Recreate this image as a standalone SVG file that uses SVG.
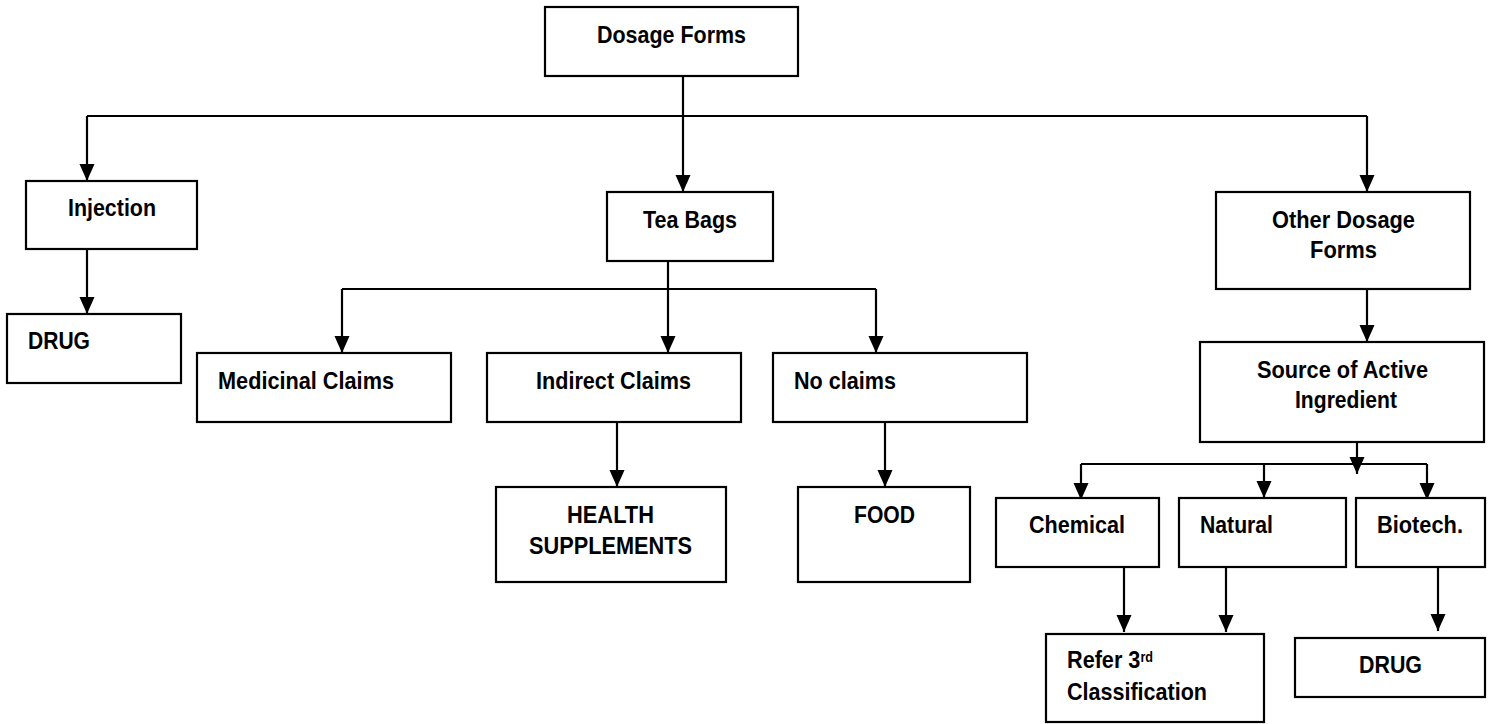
<svg xmlns="http://www.w3.org/2000/svg" width="1496" height="724" viewBox="0 0 1496 724">
<defs>
<style>
.box{fill:#fff;stroke:#000;stroke-width:2.2}
.t{font-family:"Liberation Sans",Arial,sans-serif;font-weight:bold;font-size:24px;fill:#000}
.sup{font-size:14px}
.c{fill:none;stroke:#000;stroke-width:2.2}
</style>
<marker id="ah" markerUnits="userSpaceOnUse" markerWidth="17" markerHeight="16" viewBox="0 0 17 15" refX="17" refY="7.5" orient="auto">
<path d="M0,0 L17,7.5 L0,15 Z" fill="#000"/>
</marker>
</defs>
<rect width="1496" height="724" fill="#fff"/>
<g id="connectors">
<path class="c" d="M683,76 V192" marker-end="url(#ah)"/>
<path class="c" d="M87,116 H1367"/>
<path class="c" d="M87,116 V181" marker-end="url(#ah)"/>
<path class="c" d="M1367,116 V192" marker-end="url(#ah)"/>
<path class="c" d="M87,249 V314" marker-end="url(#ah)"/>
<path class="c" d="M668,261 V353" marker-end="url(#ah)"/>
<path class="c" d="M342,289 H876"/>
<path class="c" d="M342,289 V353" marker-end="url(#ah)"/>
<path class="c" d="M876,289 V353" marker-end="url(#ah)"/>
<path class="c" d="M617,422 V487" marker-end="url(#ah)"/>
<path class="c" d="M885,422 V487" marker-end="url(#ah)"/>
<path class="c" d="M1367,289 V342" marker-end="url(#ah)"/>
<path class="c" d="M1357,442 V474" marker-end="url(#ah)"/>
<path class="c" d="M1081,464 H1427"/>
<path class="c" d="M1081,464 V500" marker-end="url(#ah)"/>
<path class="c" d="M1264,464 V498" marker-end="url(#ah)"/>
<path class="c" d="M1427,464 V500" marker-end="url(#ah)"/>
<path class="c" d="M1124,567 V632" marker-end="url(#ah)"/>
<path class="c" d="M1226,567 V632" marker-end="url(#ah)"/>
<path class="c" d="M1438,567 V631" marker-end="url(#ah)"/>
</g>
<g id="dosage-forms"><rect class="box" x="545" y="7" width="253" height="69"/><text class="t" x="597" y="43" textLength="149" lengthAdjust="spacingAndGlyphs">Dosage Forms</text></g>
<g id="injection"><rect class="box" x="26" y="181" width="171" height="68"/><text class="t" x="68" y="216" textLength="88" lengthAdjust="spacingAndGlyphs">Injection</text></g>
<g id="drug1"><rect class="box" x="7" y="314" width="174" height="69"/><text class="t" x="28" y="349" textLength="62" lengthAdjust="spacingAndGlyphs">DRUG</text></g>
<g id="tea-bags"><rect class="box" x="607" y="192" width="166" height="69"/><text class="t" x="643" y="228" textLength="94" lengthAdjust="spacingAndGlyphs">Tea Bags</text></g>
<g id="other-dosage"><rect class="box" x="1216" y="192" width="254" height="97"/><text class="t" x="1272" y="228" textLength="143" lengthAdjust="spacingAndGlyphs">Other Dosage</text><text class="t" x="1310" y="258" textLength="67" lengthAdjust="spacingAndGlyphs">Forms</text></g>
<g id="medicinal"><rect class="box" x="197" y="353" width="254" height="69"/><text class="t" x="218" y="389" textLength="176" lengthAdjust="spacingAndGlyphs">Medicinal Claims</text></g>
<g id="indirect"><rect class="box" x="487" y="353" width="254" height="69"/><text class="t" x="536" y="389" textLength="155" lengthAdjust="spacingAndGlyphs">Indirect Claims</text></g>
<g id="no-claims"><rect class="box" x="773" y="353" width="254" height="69"/><text class="t" x="794" y="389" textLength="102" lengthAdjust="spacingAndGlyphs">No claims</text></g>
<g id="source"><rect class="box" x="1200" y="342" width="284" height="100"/><text class="t" x="1257" y="378" textLength="171" lengthAdjust="spacingAndGlyphs">Source of Active</text><text class="t" x="1295" y="408" textLength="102" lengthAdjust="spacingAndGlyphs">Ingredient</text></g>
<g id="health"><rect class="box" x="496" y="487" width="230" height="95"/><text class="t" x="567" y="523" textLength="87" lengthAdjust="spacingAndGlyphs">HEALTH</text><text class="t" x="529" y="554" textLength="163" lengthAdjust="spacingAndGlyphs">SUPPLEMENTS</text></g>
<g id="food"><rect class="box" x="798" y="487" width="172" height="95"/><text class="t" x="854" y="523" textLength="61" lengthAdjust="spacingAndGlyphs">FOOD</text></g>
<g id="chemical"><rect class="box" x="996" y="498" width="163" height="69"/><text class="t" x="1029" y="533" textLength="96" lengthAdjust="spacingAndGlyphs">Chemical</text></g>
<g id="natural"><rect class="box" x="1179" y="498" width="167" height="69"/><text class="t" x="1200" y="533" textLength="73" lengthAdjust="spacingAndGlyphs">Natural</text></g>
<g id="biotech"><rect class="box" x="1356" y="498" width="129" height="69"/><text class="t" x="1377" y="533" textLength="86" lengthAdjust="spacingAndGlyphs">Biotech.</text></g>
<g id="refer"><rect class="box" x="1046" y="634" width="218" height="88"/><text class="t" x="1067" y="668" textLength="86" lengthAdjust="spacingAndGlyphs">Refer 3<tspan class="sup" dy="-6">rd</tspan></text><text class="t" x="1067" y="700" textLength="140" lengthAdjust="spacingAndGlyphs">Classification</text></g>
<g id="drug2"><rect class="box" x="1295" y="638" width="190" height="59"/><text class="t" x="1359" y="673" textLength="63" lengthAdjust="spacingAndGlyphs">DRUG</text></g>
</svg>
